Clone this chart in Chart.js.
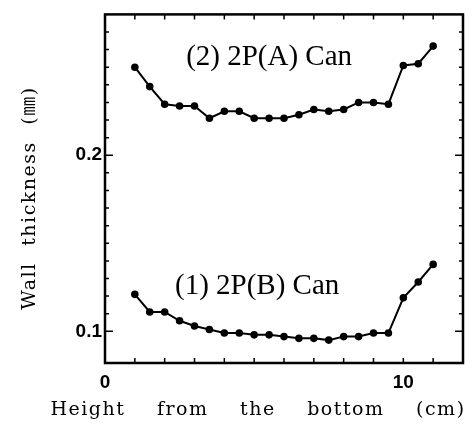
<!DOCTYPE html>
<html>
<head>
    <title>Wall thickness</title>
    <script src="https://cdn.jsdelivr.net/npm/chart.js"></script>
    <style>
        body { margin: 0; background-color: #fff; }
        canvas { display: block; }
    </style>
</head>
<body>
<canvas id="thicknessChart" width="472" height="428"></canvas>

<script>
    // heights from the bottom (cm)
    const heights = [1, 1.5, 2, 2.5, 3, 3.5, 4, 4.5, 5, 5.5, 6, 6.5, 7, 7.5, 8, 8.5, 9, 9.5, 10, 10.5, 11];
    // (2) 2P(A) Can, wall thickness (mm)
    const canA = [0.250, 0.239, 0.229, 0.228, 0.228, 0.221, 0.225, 0.225, 0.221, 0.221, 0.221,
                  0.223, 0.226, 0.225, 0.226, 0.230, 0.230, 0.229, 0.251, 0.252, 0.262];
    // (1) 2P(B) Can
    const canB = [0.121, 0.111, 0.111, 0.106, 0.103, 0.101, 0.099, 0.099, 0.098, 0.098, 0.097,
                  0.096, 0.096, 0.095, 0.097, 0.097, 0.099, 0.099, 0.119, 0.128, 0.138];
    const xLabels = [0, 10];
    const yLabels = [0.1, 0.2];
    const seriesNames = ['(2) 2P(A) Can', '(1) 2P(B) Can'];

    const toPoints = ys => heights.map((h, i) => ({ x: h, y: ys[i] }));
    const near = (v, list) => list.find(t => Math.abs(v - t) < 1e-6);

    // frame, inward ticks, labels and axis titles
    const decor = {
        id: 'decor',
        afterDraw(chart) {
            const { ctx, chartArea: a, scales: { x, y } } = chart;
            ctx.save();
            ctx.strokeStyle = '#000';
            ctx.lineWidth = 2.5;
            ctx.strokeRect(a.left, a.top, a.right - a.left, a.bottom - a.top);

            ctx.lineWidth = 1.5;
            ctx.beginPath();
            x.ticks.forEach(t => {
                if (t.value <= x.min || t.value >= x.max) return;
                const px = x.getPixelForValue(t.value);
                ctx.moveTo(px, a.bottom); ctx.lineTo(px, a.bottom - 5);
                ctx.moveTo(px, a.top); ctx.lineTo(px, a.top + 5);
            });
            y.ticks.forEach(t => {
                const r = Math.round(t.value * 100);
                if (Math.abs(t.value * 100 - r) > 1e-6 || t.value >= y.max) return;
                const py = y.getPixelForValue(t.value);
                const len = r % 10 === 0 ? 8 : 4;
                ctx.moveTo(a.left, py); ctx.lineTo(a.left + len, py);
                ctx.moveTo(a.right, py); ctx.lineTo(a.right - len, py);
            });
            ctx.stroke();

            ctx.fillStyle = '#000';
            ctx.textAlign = 'center';
            ctx.textBaseline = 'middle';
            ctx.font = "29px 'Liberation Serif'";
            ctx.fillText(seriesNames[0], x.getPixelForValue(5.5), y.getPixelForValue(0.2555));
            ctx.fillText(seriesNames[1], x.getPixelForValue(5.1), y.getPixelForValue(0.1257));

            ctx.font = "19px 'DejaVu Serif', 'Noto Sans CJK JP'";
            ctx.letterSpacing = '1.5px';
            ctx.wordSpacing = '24px';
            ctx.fillText('Height from the bottom (cm)', 258, 410);

            ctx.wordSpacing = '9px';
            ctx.translate(30, 198);
            ctx.rotate(-Math.PI / 2);
            ctx.fillText('Wall thickness (㎜)', 0, 0);
            ctx.restore();
        }
    };

    const ctx = document.getElementById('thicknessChart').getContext('2d');
    const lineStyle = {
        borderColor: '#000',
        backgroundColor: '#000',
        borderWidth: 2,
        pointRadius: 2.8,
        pointHoverRadius: 2.8,
        showLine: true,
        tension: 0
    };

    new Chart(ctx, {
        type: 'scatter',
        data: {
            datasets: [
                { label: seriesNames[0], data: toPoints(canA), ...lineStyle },
                { label: seriesNames[1], data: toPoints(canB), ...lineStyle }
            ]
        },
        options: {
            responsive: false,
            animation: false,
            layout: { padding: { left: 0, right: 9, top: 8, bottom: 0 } },
            plugins: { legend: { display: false }, tooltip: { enabled: false } },
            scales: {
                x: {
                    type: 'linear', min: 0, max: 12,
                    grid: { display: false, drawTicks: false },
                    border: { display: false },
                    afterFit: s => { s.height = 65; },
                    ticks: {
                        stepSize: 1, autoSkip: false, maxRotation: 0, padding: 8,
                        color: '#000',
                        font: { family: "'Liberation Sans'", size: 19, weight: 'bold' },
                        callback: v => near(v, xLabels) !== undefined ? String(v) : ''
                    }
                },
                y: {
                    type: 'linear', min: 0.082, max: 0.28,
                    grid: { display: false, drawTicks: false },
                    border: { display: false },
                    afterFit: s => { s.width = 105; },
                    ticks: {
                        stepSize: 0.01, autoSkip: false, padding: 3,
                        color: '#000',
                        font: { family: "'Liberation Sans'", size: 19, weight: 'bold' },
                        callback: v => { const t = near(v, yLabels); return t !== undefined ? t.toFixed(1) : ''; }
                    }
                }
            }
        },
        plugins: [decor]
    });
</script>
</body>
</html>
